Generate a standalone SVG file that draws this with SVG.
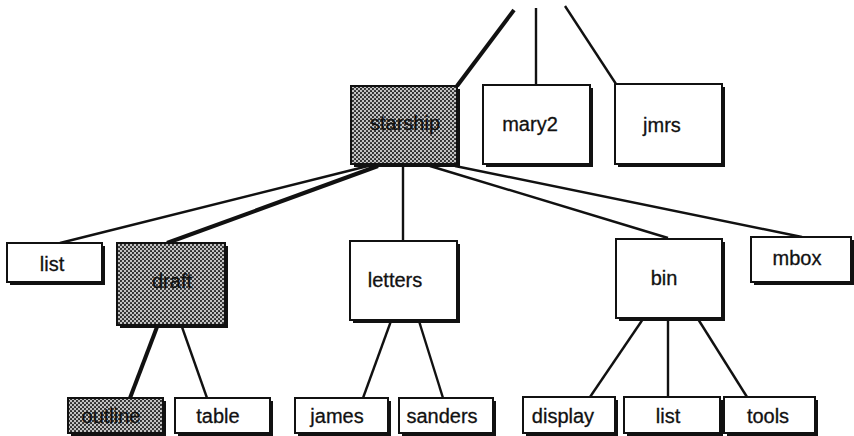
<svg xmlns="http://www.w3.org/2000/svg" width="854" height="436" viewBox="0 0 854 436">
<defs>
<pattern id="dots" width="4" height="4" patternUnits="userSpaceOnUse">
<rect width="4" height="4" fill="#c4c4c4"/>
<circle cx="1" cy="1" r="1.05" fill="#222"/>
<circle cx="3" cy="3" r="1.05" fill="#222"/>
</pattern>
</defs>
<style>
.sh{fill:#111}
.bx{fill:#fff;stroke:#111;stroke-width:2}
.st{fill:url(#dots);stroke:#111;stroke-width:2}
.t{font-family:"Liberation Sans",Arial,sans-serif;font-size:20px;fill:#111;text-anchor:middle;stroke:#111;stroke-width:0.3}
.l{stroke:#111;stroke-width:2.4;fill:none}
.k{stroke:#111;stroke-width:4;fill:none}
</style>
<rect width="854" height="436" fill="#fff"/>
<g id="connectors">
<line class="k" x1="457" y1="86" x2="514" y2="10"/>
<line class="l" x1="536" y1="84" x2="536" y2="8"/>
<line class="l" x1="616" y1="84" x2="565" y2="6"/>
<line class="l" x1="368" y1="166" x2="60" y2="243"/>
<line class="k" x1="378" y1="166" x2="167" y2="243"/>
<line class="l" x1="403" y1="166" x2="403" y2="241"/>
<line class="l" x1="430" y1="166" x2="668" y2="238"/>
<line class="l" x1="455" y1="166" x2="802" y2="237"/>
<line class="k" x1="157" y1="327" x2="130" y2="398"/>
<line class="l" x1="182" y1="327" x2="207" y2="398"/>
<line class="l" x1="391" y1="321" x2="363" y2="398"/>
<line class="l" x1="419" y1="321" x2="443" y2="398"/>
<line class="l" x1="643" y1="319" x2="590" y2="397"/>
<line class="l" x1="668" y1="319" x2="668" y2="397"/>
<line class="l" x1="698" y1="319" x2="747" y2="397"/>
</g>
<g id="starship"><rect class="sh" x="354" y="89" width="106" height="78"/><rect class="st" x="351" y="86" width="106" height="78"/><text class="t" x="405" y="130">starship</text></g>
<g id="mary2"><rect class="sh" x="486" y="88" width="107" height="79"/><rect class="bx" x="483" y="85" width="107" height="79"/><text class="t" x="530" y="131">mary2</text></g>
<g id="jmrs"><rect class="sh" x="618" y="87" width="107" height="80"/><rect class="bx" x="615" y="84" width="107" height="80"/><text class="t" x="662" y="132">jmrs</text></g>
<g id="list1"><rect class="sh" x="10" y="246" width="95" height="39"/><rect class="bx" x="7" y="243" width="95" height="39"/><text class="t" x="52" y="271">list</text></g>
<g id="draft"><rect class="sh" x="120" y="246" width="108" height="82"/><rect class="st" x="117" y="243" width="108" height="82"/><text class="t" x="172" y="288">draft</text></g>
<g id="letters"><rect class="sh" x="353" y="244" width="107" height="79"/><rect class="bx" x="350" y="241" width="107" height="79"/><text class="t" x="395" y="287">letters</text></g>
<g id="bin"><rect class="sh" x="619" y="242" width="106" height="79"/><rect class="bx" x="616" y="239" width="106" height="79"/><text class="t" x="664" y="285">bin</text></g>
<g id="mbox"><rect class="sh" x="754" y="240" width="100" height="45"/><rect class="bx" x="751" y="237" width="100" height="45"/><text class="t" x="797" y="265">mbox</text></g>
<g id="outline"><rect class="sh" x="71" y="401" width="95" height="35"/><rect class="st" x="68" y="398" width="95" height="35"/><text class="t" x="111" y="423">outline</text></g>
<g id="table"><rect class="sh" x="178" y="401" width="95" height="35"/><rect class="bx" x="175" y="398" width="95" height="35"/><text class="t" x="218" y="423">table</text></g>
<g id="james"><rect class="sh" x="298" y="401" width="93" height="35"/><rect class="bx" x="295" y="398" width="93" height="35"/><text class="t" x="337" y="423">james</text></g>
<g id="sanders"><rect class="sh" x="402" y="401" width="94" height="35"/><rect class="bx" x="399" y="398" width="94" height="35"/><text class="t" x="442" y="423">sanders</text></g>
<g id="display"><rect class="sh" x="526" y="400" width="92" height="36"/><rect class="bx" x="523" y="397" width="92" height="36"/><text class="t" x="563" y="423">display</text></g>
<g id="list2"><rect class="sh" x="627" y="400" width="96" height="36"/><rect class="bx" x="624" y="397" width="96" height="36"/><text class="t" x="668" y="423">list</text></g>
<g id="tools"><rect class="sh" x="727" y="400" width="91" height="36"/><rect class="bx" x="724" y="397" width="91" height="36"/><text class="t" x="768" y="423">tools</text></g>
</svg>
